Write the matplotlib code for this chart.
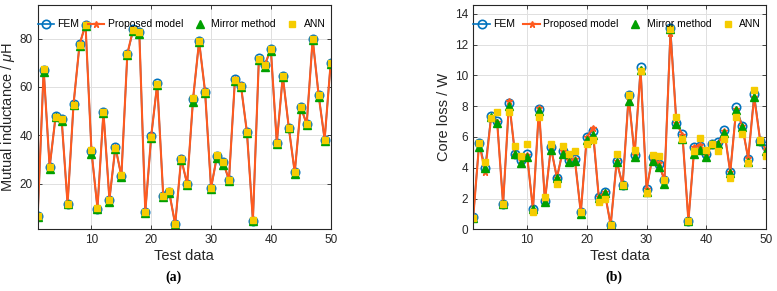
import numpy as np
import matplotlib
matplotlib.use("Agg")
import matplotlib.pyplot as plt

plt.rcParams['font.family'] = ['Liberation Sans', 'DejaVu Sans']
plt.rcParams['mathtext.fontset'] = 'custom'
plt.rcParams['mathtext.it'] = 'Liberation Sans:italic'

test_idx = np.arange(1, 51)

# (a) mutual inductance, uH
fem_m = [6.4, 67.0, 26.8, 48.0, 46.6, 11.6, 52.8, 77.6, 85.6, 33.5, 9.7, 49.8, 13.3, 35.0, 23.2,
         73.6, 83.8, 82.6, 8.2, 39.7, 61.5, 14.9, 16.6, 3.1, 30.2, 19.9, 55.1, 79.0, 57.9, 18.1,
         31.6, 28.8, 21.5, 63.3, 60.4, 41.4, 4.7, 71.8, 69.0, 75.5, 36.7, 64.6, 43.1, 24.7, 51.6,
         44.7, 79.7, 56.6, 38.1, 69.7]
prop_m = [6.5, 67.2, 26.9, 47.8, 46.9, 11.5, 53.0, 77.4, 85.9, 33.3, 9.8, 49.6, 13.5, 35.2, 23.0,
          73.8, 84.0, 82.4, 8.3, 39.9, 61.3, 15.0, 16.4, 3.2, 30.4, 19.8, 55.3, 78.8, 58.1, 18.2,
          31.4, 29.0, 21.6, 63.1, 60.6, 41.2, 4.8, 71.6, 69.2, 75.7, 36.8, 64.4, 43.3, 24.6, 51.8,
          44.5, 79.9, 56.4, 38.3, 69.5]
mirror_m = [6.2, 66.0, 26.2, 47.6, 45.8, 11.5, 52.3, 77.0, 85.2, 32.2, 9.4, 49.2, 12.5, 34.4, 22.6,
            73.0, 83.3, 82.0, 7.7, 39.0, 60.8, 14.6, 16.2, 2.9, 29.7, 19.6, 53.6, 78.4, 57.3, 17.8,
            30.6, 27.6, 21.0, 62.6, 60.0, 40.9, 4.6, 71.2, 68.2, 74.8, 36.4, 64.0, 42.8, 24.0, 51.0,
            44.3, 79.2, 56.0, 37.8, 69.3]
ann_m = [6.5, 67.4, 27.0, 47.7, 46.8, 11.7, 52.4, 77.5, 85.6, 33.8, 9.9, 49.5, 13.2, 34.9, 23.4,
         73.4, 83.6, 82.6, 8.4, 39.4, 61.0, 15.0, 16.8, 3.3, 30.0, 20.0, 55.2, 78.8, 58.0, 18.2,
         31.7, 29.0, 21.5, 63.0, 60.3, 41.5, 4.8, 71.6, 69.2, 75.6, 36.7, 64.5, 43.0, 24.8, 51.5,
         44.8, 79.6, 56.8, 38.0, 69.8]

# (b) core loss, W
fem_c = [0.78, 5.64, 3.97, 7.38, 7.07, 1.65, 8.24, 4.88, 4.51, 4.88, 1.30, 7.81, 1.86, 5.34, 3.36,
         5.12, 4.51, 4.58, 1.10, 6.03, 6.42, 2.12, 2.41, 0.28, 4.45, 2.88, 8.70, 4.84, 10.52, 2.62,
         4.73, 4.23, 3.21, 13.08, 6.90, 6.18, 0.56, 5.38, 5.42, 4.90, 5.55, 5.70, 6.46, 3.71, 7.92,
         6.74, 4.58, 8.79, 5.77, 5.42]
prop_c = [0.75, 5.60, 3.71, 7.30, 7.00, 1.63, 8.37, 4.85, 4.50, 4.85, 1.28, 7.87, 1.84, 5.30, 3.35,
          5.10, 4.48, 4.55, 1.08, 5.98, 6.57, 2.10, 2.40, 0.27, 4.42, 2.86, 8.60, 4.82, 10.35, 2.60,
          4.73, 4.28, 3.20, 12.76, 6.90, 6.15, 0.55, 5.38, 5.45, 4.85, 5.50, 5.55, 6.40, 3.70, 7.80,
          6.70, 4.62, 8.60, 5.77, 5.16]
mirror_c = [0.74, 5.34, 3.97, 7.30, 6.90, 1.65, 8.03, 4.88, 4.34, 4.69, 1.30, 7.66, 1.76, 5.16, 3.32,
            4.90, 4.36, 4.42, 1.00, 5.81, 6.14, 2.06, 2.39, 0.28, 4.36, 2.86, 8.31, 4.71, 10.35, 2.45,
            4.45, 4.04, 2.93, 13.0, 6.86, 5.86, 0.56, 4.90, 5.16, 4.71, 5.55, 5.55, 6.25, 3.65, 7.77,
            6.68, 4.36, 8.60, 5.77, 5.12]
ann_c = [0.75, 5.64, 4.36, 7.23, 7.60, 1.65, 7.60, 5.42, 4.77, 5.53, 1.15, 7.33, 2.12, 5.55, 2.95,
         5.42, 4.88, 5.10, 1.15, 5.53, 5.81, 1.76, 1.97, 0.28, 4.88, 2.88, 8.70, 5.16, 10.26, 2.39,
         4.84, 4.77, 3.21, 13.0, 7.29, 5.86, 0.56, 5.12, 5.92, 5.16, 5.55, 5.12, 5.86, 3.32, 7.29,
         6.18, 4.30, 9.07, 5.80, 4.77]

c_fem = '#0072BD'
c_prop = '#FF5A1F'
c_mirror = '#00A000'
c_ann = '#F5CC00'
axcol = '#262626'


def draw(ax, fem, prop, mirror, ann):
    ax.plot(test_idx, fem, '-o', color=c_fem, mfc='none', mew=1.2, ms=6, lw=1.2, label='FEM')
    ax.plot(test_idx, prop, '-*', color=c_prop, ms=5, lw=1.5, label='Proposed model')
    ax.plot(test_idx, mirror, '^', color=c_mirror, ms=5.5, ls='none', label='Mirror method')
    ax.plot(test_idx, ann, 's', color=c_ann, ms=5, ls='none', label='ANN')
    ax.set_xlim(1, 50)
    ax.set_xticks([10, 20, 30, 40, 50])
    ax.grid(True, color='#e0e0e0', lw=0.7)
    ax.set_axisbelow(True)
    for s in ax.spines.values():
        s.set_color(axcol)
        s.set_linewidth(0.8)
    ax.tick_params(direction='in', length=3, width=0.6, colors=axcol, labelsize=8.5,
                   top=True, right=True, labelcolor=axcol)
    ax.set_xlabel('Test data', fontsize=10.5, color=axcol, labelpad=2)
    ax.legend(ncol=4, loc='upper left', bbox_to_anchor=(0.0, 0.935), frameon=False,
              fontsize=7.5, handlelength=1.6, handletextpad=0.3, columnspacing=0.8,
              borderaxespad=0.0, borderpad=0.0)


fig = plt.figure(figsize=(7.77, 2.91), dpi=100)
ax1 = fig.add_axes([0.0485, 0.212, 0.377, 0.772])
ax2 = fig.add_axes([0.609, 0.212, 0.377, 0.772])

draw(ax1, fem_m, prop_m, mirror_m, ann_m)
ax1.set_ylim(1.1, 94)
ax1.set_yticks([20, 40, 60, 80])
ax1.set_ylabel(r'Mutual inductance / $\mu$H', fontsize=10.5, color=axcol, labelpad=2)

draw(ax2, fem_c, prop_c, mirror_c, ann_c)
ax2.set_ylim(0, 14.6)
ax2.set_yticks(np.arange(0, 15, 2))
ax2.set_ylabel('Core loss / W', fontsize=10.5, color=axcol, labelpad=3)

fig.text(174 / 777, 1 - 277 / 291, '(a)', ha='center', va='center', fontsize=10,
         fontweight='bold', family='Liberation Serif')
fig.text(614 / 777, 1 - 277 / 291, '(b)', ha='center', va='center', fontsize=10,
         fontweight='bold', family='Liberation Serif')

fig.savefig('out.png', dpi=100)
